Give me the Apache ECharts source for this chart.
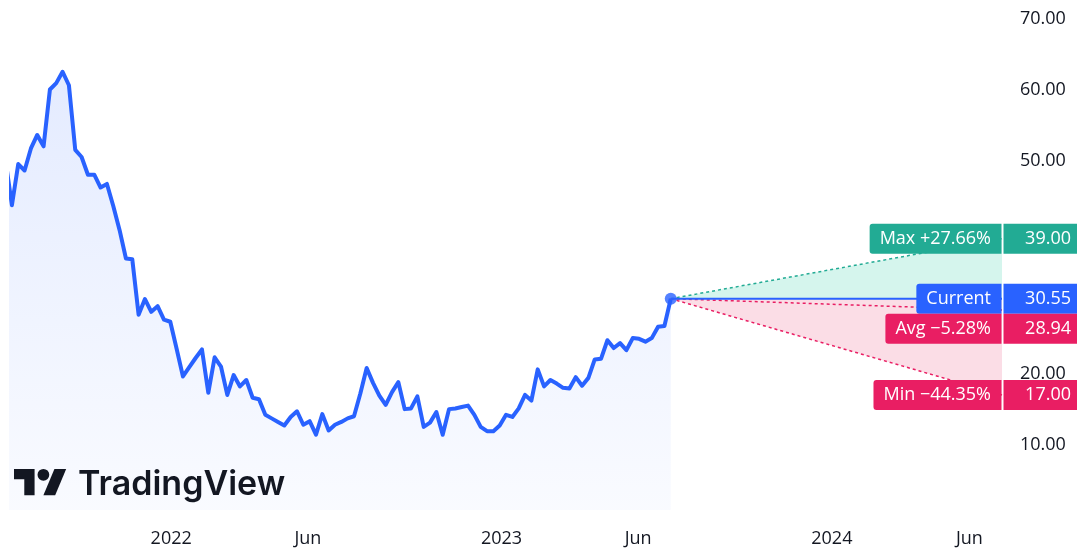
<!DOCTYPE html>
<html>
<head>
<meta charset="utf-8">
<script src="https://cdn.jsdelivr.net/npm/echarts@6/dist/echarts.min.js"></script>
<style>
  html, body { margin: 0; padding: 0; background: #ffffff; }
  #chart { width: 1077px; height: 550px; }
</style>
</head>
<body>
<div id="chart"></div>
<script>
// Weekly closes, one per week starting 2 Jul 2021 (the first week lies just left of the visible range)
const firstWeek = [2021, 6, 2];
const prices = [
  50.0, 43.7, 49.5, 48.6, 51.7, 53.6, 52.0, 60.0, 60.9, 62.5,
  60.6, 51.5, 50.5, 48.0, 48.0, 46.2, 46.7, 43.6, 40.2, 36.2,
  36.1, 28.3, 30.5, 28.7, 29.5, 27.6, 27.3, 23.5, 19.6, 20.9,
  22.2, 23.4, 17.3, 22.3, 21.0, 17.0, 19.8, 18.2, 19.1, 16.6,
  16.4, 14.2, 13.7, 13.2, 12.7, 13.9, 14.7, 12.8, 13.3, 11.4,
  14.3, 12.0, 12.8, 13.2, 13.7, 14.0, 17.2, 20.8, 18.7, 16.9,
  15.6, 17.4, 18.8, 15.0, 15.1, 16.8, 12.5, 13.1, 14.6, 11.4,
  15.0, 15.1, 15.3, 15.5, 14.2, 12.5, 11.9, 11.9, 12.7, 14.2,
  13.9, 15.1, 17.0, 16.2, 20.6, 18.2, 19.1, 18.6, 18.0, 17.9,
  19.5, 18.3, 19.4, 22.0, 22.1, 24.7, 23.6, 24.3, 23.3, 25.0,
  24.9, 24.5, 25.0, 26.6, 26.7, 30.55
];

// 12-month price targets
const forecastNames = ['Max', 'Current', 'Avg', 'Min'];
const forecastValues = [39.00, 30.55, 28.94, 17.00];
const forecastChange = ['+27.66%', '', '\u22125.28%', '\u221244.35%'];
const forecastColors = ['#22ab94', '#2962ff', '#e91e63', '#e91e63'];

// Axis ranges and tick labels
const viewStart = [2021, 6, 8];
const viewEnd = [2024, 6, 7];
const xTickDates = [[2022, 0, 1], [2022, 5, 1], [2023, 0, 1], [2023, 5, 1], [2024, 0, 1], [2024, 5, 1]];
const monthNames = ['Jan', 'Feb', 'Mar', 'Apr', 'May', 'Jun', 'Jul', 'Aug', 'Sep', 'Oct', 'Nov', 'Dec'];
const yMin = 0.8, yMax = 72.6;
const yTicks = [10, 20, 30, 40, 50, 60, 70];

const ts = (d) => new Date(d[0], d[1], d[2]).getTime();
const priceSeries = prices.map((v, i) => [new Date(firstWeek[0], firstWeek[1], firstWeek[2] + 7 * i).getTime(), v]);
const lastT = priceSeries[priceSeries.length - 1][0];
const endT = ts(viewEnd);
const current = forecastValues[1];

const BLUE = '#2962ff';
const FONT = '"Open Sans", sans-serif';
const FS = 18;
const TEXT = '#131722';

const measureCtx = document.createElement('canvas').getContext('2d');
measureCtx.font = FS + 'px ' + FONT;

// Brand mark: a "T" block, a dot and a slanted bar, in a 36-unit design grid
const LOGO_X = 14, LOGO_Y = 463, LOGO_S = 1.47;
const logoPt = (p) => [LOGO_X + p[0] * LOGO_S, LOGO_Y + p[1] * LOGO_S];
const logoT = [[0, 4], [14, 4], [14, 22], [7, 22], [7, 11], [0, 11]].map(logoPt);
const logoBar = [[20, 22], [27.5, 4], [35.5, 4], [28, 22]].map(logoPt);

const chart = echarts.init(document.getElementById('chart'), null, { renderer: 'canvas' });

// Forecast cone: polygons from the last close to each target
const coneData = [
  [lastT, current, endT, forecastValues[0]],
  [lastT, current, endT, forecastValues[3]]
];
const coneFill = ['#d5f5ed', '#fbdde6'];

const dashed = (value, color) => ({
  type: 'line',
  data: [[lastT, current], [endT, value]],
  symbol: 'none',
  silent: true,
  lineStyle: { color: color, width: 1.5, type: [3, 3] },
  z: 3
});

chart.setOption({
  animation: false,
  backgroundColor: '#ffffff',
  grid: { left: 11, right: 75, top: 0, bottom: 40 },
  xAxis: {
    // dates as millisecond timestamps
    type: 'value',
    min: ts(viewStart),
    max: endT,
    splitLine: { show: false },
    axisLine: { show: false },
    axisTick: { show: false },
    axisLabel: {
      customValues: xTickDates.map(ts),
      formatter: (v) => {
        const d = new Date(v);
        return d.getMonth() === 0 ? String(d.getFullYear()) : monthNames[d.getMonth()];
      },
      color: TEXT,
      fontFamily: FONT,
      fontSize: FS,
      margin: 20
    }
  },
  yAxis: {
    type: 'value',
    position: 'right',
    min: yMin,
    max: yMax,
    splitLine: { show: false },
    axisLine: { show: false },
    axisTick: { show: false },
    axisLabel: {
      customValues: yTicks,
      formatter: (v) => v.toFixed(2),
      color: TEXT,
      fontFamily: FONT,
      fontSize: FS,
      margin: 18
    }
  },
  graphic: [
    { type: 'polygon', shape: { points: logoT }, style: { fill: TEXT }, z: 10 },
    { type: 'polygon', shape: { points: logoBar }, style: { fill: TEXT }, z: 10 },
    {
      type: 'circle',
      shape: { cx: LOGO_X + 20 * LOGO_S, cy: LOGO_Y + 8 * LOGO_S, r: 4 * LOGO_S },
      style: { fill: TEXT },
      z: 10
    },
    {
      type: 'text',
      x: 78, y: 485,
      style: {
        text: 'TradingView',
        font: '600 34px Inter, sans-serif',
        fill: TEXT,
        verticalAlign: 'middle'
      },
      z: 10
    }
  ],
  series: [
    {
      type: 'custom',
      silent: true,
      encode: { x: [0, 2], y: [1, 3] },
      data: coneData,
      z: 1,
      renderItem: (params, api) => {
        const p0 = api.coord([api.value(0), api.value(1)]);
        const p1 = api.coord([api.value(2), api.value(3)]);
        const p2 = api.coord([api.value(2), api.value(1)]);
        return { type: 'polygon', shape: { points: [p0, p1, p2] }, style: { fill: coneFill[params.dataIndex] } };
      }
    },
    {
      type: 'line',
      data: priceSeries,
      symbol: 'none',
      silent: true,
      clip: true,
      lineStyle: { color: BLUE, width: 4, join: 'round' },
      areaStyle: {
        color: {
          type: 'linear', x: 0, y: 0, x2: 0, y2: 1,
          colorStops: [
            { offset: 0, color: 'rgba(41,98,255,0.18)' },
            { offset: 1, color: 'rgba(41,98,255,0.04)' }
          ]
        }
      },
      z: 2
    },
    dashed(forecastValues[0], '#22ab94'),
    dashed(forecastValues[2], '#e91e63'),
    dashed(forecastValues[3], '#e91e63'),
    {
      type: 'line',
      data: [[lastT, current], [endT, current]],
      symbol: 'none',
      silent: true,
      lineStyle: { color: BLUE, width: 2 },
      z: 4
    },
    {
      type: 'scatter',
      data: [[lastT, current]],
      symbolSize: 12,
      itemStyle: { color: BLUE },
      silent: true,
      z: 5
    },
    {
      // Target labels on the price scale, pushed apart when they collide
      type: 'custom',
      silent: true,
      encode: { x: 0, y: 1 },
      data: [[endT, current]],
      z: 6,
      renderItem: (params, api) => {
        const H = 30;
        const rightX = api.coord([endT, current])[0];
        const W = api.getWidth();
        const items = forecastValues.map((v, i) => ({ i: i, v: v, y: api.coord([endT, v])[1] }));
        const order = items.slice().sort((a, b) => {
          if (a.i === 1) return -1;
          if (b.i === 1) return 1;
          return a.y - b.y;
        });
        const placed = [];
        order.forEach((it) => {
          let y = it.y;
          placed.forEach((p) => {
            if (Math.abs(y - p.y) < H) y = y >= p.y ? p.y + H : p.y - H;
          });
          it.y = y;
          placed.push(it);
        });
        const children = [];
        items.forEach((it) => {
          const label = forecastChange[it.i] ? forecastNames[it.i] + ' ' + forecastChange[it.i] : forecastNames[it.i];
          const tw = measureCtx.measureText(label).width;
          const textRight = rightX - 11;
          const boxLeft = textRight - tw - 10;
          const top = it.y - H / 2;
          const col = forecastColors[it.i];
          children.push({
            type: 'rect',
            shape: { x: boxLeft, y: top, width: rightX - 0.5 - boxLeft, height: H, r: [3, 0, 0, 3] },
            style: { fill: col }
          });
          children.push({
            type: 'rect',
            shape: { x: rightX + 1.5, y: top, width: W - rightX - 1.5, height: H },
            style: { fill: col }
          });
          children.push({
            type: 'text',
            style: {
              x: textRight, y: it.y, text: label, fill: '#ffffff',
              font: FS + 'px ' + FONT, align: 'right', verticalAlign: 'middle'
            }
          });
          children.push({
            type: 'text',
            style: {
              x: W - 6, y: it.y, text: it.v.toFixed(2), fill: '#ffffff',
              font: FS + 'px ' + FONT, align: 'right', verticalAlign: 'middle'
            }
          });
        });
        return { type: 'group', children: children };
      }
    }
  ]
});
</script>
</body>
</html>
